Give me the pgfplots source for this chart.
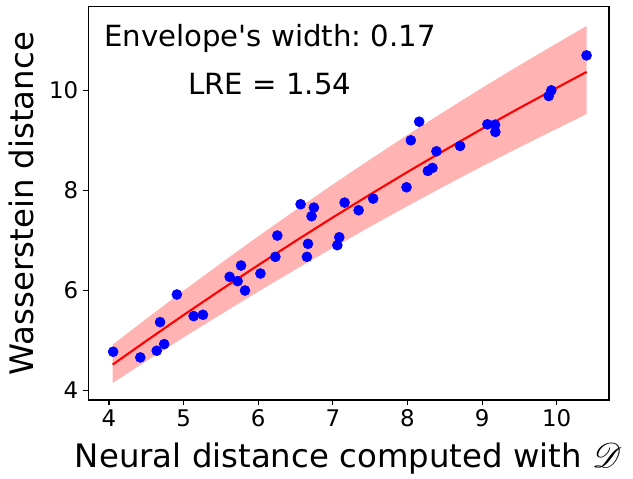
\documentclass[border=0pt]{standalone}
\usepackage{fontspec}
\setmainfont{DejaVu Sans}[Ligatures=TeXOff]
\usepackage{mathrsfs}
\usepackage{pgfplots}
\pgfplotsset{compat=1.18}
\definecolor{bandred}{RGB}{255,179,179}
\frenchspacing

\begin{document}
\begin{tikzpicture}
\begin{axis}[
  name=ax,
  scale only axis,
  width=375pt, height=283pt,
  xmin=3.72, xmax=10.70, ymin=3.8, ymax=11.67,
  xtick={4,5,...,10}, ytick={4,6,8,10},
  xtick pos=left, ytick pos=left,
  tick align=outside, major tick length=3.5pt,
  tick style={black, line width=0.8pt},
  axis line style={line width=0.8pt},
  tick label style={font=\fontsize{16.5}{18}\selectfont},
  /pgf/number format/assume math mode=true,
  xlabel={Neural distance computed with $\mathscr{D}$},
  ylabel={Wasserstein distance},
  label style={font=\fontsize{23.3}{26}\selectfont},
  xlabel style={at={(axis description cs:0.5,0)}, anchor=base, yshift=-48.2pt},
  ylabel style={at={(axis description cs:-0.1056,0.5)}, anchor=base},
]
% envelope
\addplot[draw=none, fill=bandred] coordinates {
  (4.05,4.910) (4.5,5.426) (5,5.990) (5.5,6.540) (6,7.078) (6.5,7.603)
  (7,8.117) (7.5,8.618) (8,9.108) (8.5,9.584) (9,10.050) (9.5,10.502)
  (10,10.941) (10.40,11.290)
  (10.40,9.525) (10,9.231) (9.5,8.860) (9,8.479) (8.5,8.086) (8,7.684)
  (7.5,7.271) (7,6.848) (6.5,6.415) (6,5.971) (5.5,5.517) (5,5.054)
  (4.5,4.578) (4.05,4.142)
};
% fitted curve
\addplot[red, line width=1.5pt, no marks] coordinates {
  (4.05,4.510) (4.5,4.984) (5,5.502) (5.5,6.007) (6,6.501) (6.5,6.984)
  (7,7.456) (7.5,7.916) (8,8.366) (8.5,8.803) (9,9.231) (9.5,9.646)
  (10,10.050) (10.40,10.370)
};
% data
\addplot[only marks, mark=*, mark size=3.6pt, blue, mark options={draw=none, fill=blue}] table {
x y
4.056 4.767
4.42 4.653
4.64 4.787
4.74 4.92
4.685 5.36
4.91 5.913
5.135 5.48
5.26 5.507
5.617 6.267
5.724 6.18
5.77 6.493
5.823 5.993
6.03 6.333
6.23 6.667
6.256 7.093
6.568 7.72
6.746 7.653
6.715 7.48
6.667 6.927
6.653 6.667
7.086 7.06
7.06 6.9
7.157 7.753
7.345 7.6
7.54 7.833
7.987 8.06
8.045 9.0
8.157 9.373
8.388 8.78
8.273 8.387
8.335 8.447
8.705 8.887
9.071 9.32
9.174 9.313
9.178 9.167
9.893 9.887
9.928 10.0
10.40 10.7
};
\node[anchor=base, font=\fontsize{21}{24}\selectfont] at (rel axis cs:0.349,0.899) {Envelope's width: 0.17};
\node[anchor=base, font=\fontsize{21}{24}\selectfont] at (rel axis cs:0.349,0.778) {LRE = 1.54};
\end{axis}
\pgfresetboundingbox
\path ([shift={(-63.4pt,-56.2pt)}]ax.south west) rectangle ([shift={(17.3pt,5pt)}]ax.north east);
\end{tikzpicture}
\end{document}
